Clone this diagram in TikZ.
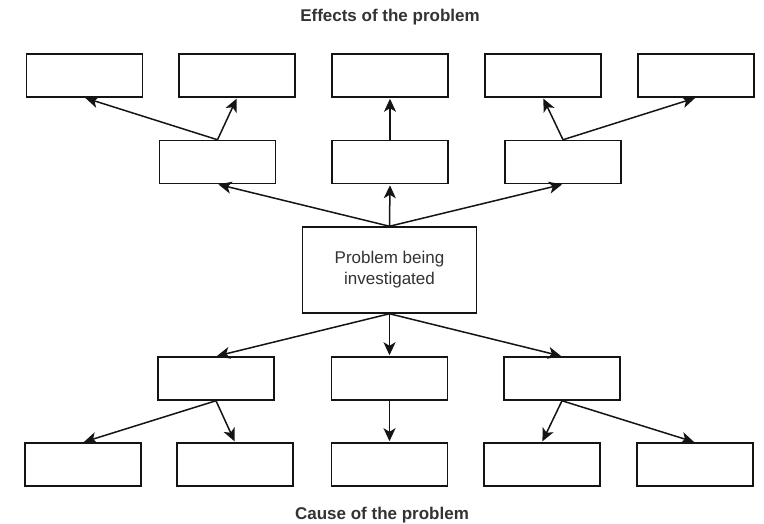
\documentclass[tikz,border=0pt]{standalone}
\usepackage{fontspec}
\setmainfont{Liberation Sans}
\usetikzlibrary{arrows.meta}
\definecolor{ink}{HTML}{141414}
\definecolor{txt}{HTML}{333333}
\begin{document}
\begin{tikzpicture}[x=1pt,y=-1pt,
  box/.style={draw=ink,line width=1.5pt,fill=white,minimum width=116pt,minimum height=43pt,inner sep=0pt},
  bigbox/.style={box,minimum width=174pt,minimum height=86pt,align=center,text=txt,font=\fontsize{17}{21}\selectfont},
  title/.style={text=txt,font=\fontsize{17}{21}\selectfont\bfseries,inner sep=0pt},
  arr/.style={draw=ink,line width=1.5pt,-{Stealth[length=13pt,width=12pt,inset=3.5pt]},shorten >=1pt}
]
\useasboundingbox[fill=white] (0,0) rectangle (764,524);

\node[title] (eff) at (390,17) {Effects of the problem};
\node[title] (cau) at (382,515) {Cause of the problem};

% top row
\node[box] (t1) at (84.5,75.5) {};
\node[box] (t2) at (237,75.5) {};
\node[box] (t3) at (390,75.5) {};
\node[box] (t4) at (543,75.5) {};
\node[box] (t5) at (696,75.5) {};
% mid top
\node[box] (a) at (217.5,162) {};
\node[box] (b) at (390,162) {};
\node[box] (c) at (563,162) {};
% center
\node[bigbox] (p) at (389.5,270) {Problem being\\investigated};
% mid bottom
\node[box] (d) at (216,378.5) {};
\node[box] (e) at (389.5,378.5) {};
\node[box] (f) at (562,378.5) {};
% bottom row
\node[box] (b1) at (83,464.5) {};
\node[box] (b2) at (235,464.5) {};
\node[box] (b3) at (389.5,464.5) {};
\node[box] (b4) at (542,464.5) {};
\node[box] (b5) at (695,464.5) {};

% effects
\draw[arr] (p.north) -- (a.south);
\draw[arr] (p.north) -- (b.south);
\draw[arr] (p.north) -- (c.south);
\draw[arr] (a.north) -- (t1.south);
\draw[arr] (a.north) -- (t2.south);
\draw[arr] (b.north) -- (t3.south);
\draw[arr] (c.north) -- (t4.south);
\draw[arr] (c.north) -- (t5.south);
% causes
\draw[arr] (p.south) -- (d.north);
\draw[arr] (p.south) -- (e.north);
\draw[arr] (p.south) -- (f.north);
\draw[arr] (d.south) -- (b1.north);
\draw[arr] (d.south) -- (b2.north);
\draw[arr] (e.south) -- (b3.north);
\draw[arr] (f.south) -- (b4.north);
\draw[arr] (f.south) -- (b5.north);
\end{tikzpicture}
\end{document}
